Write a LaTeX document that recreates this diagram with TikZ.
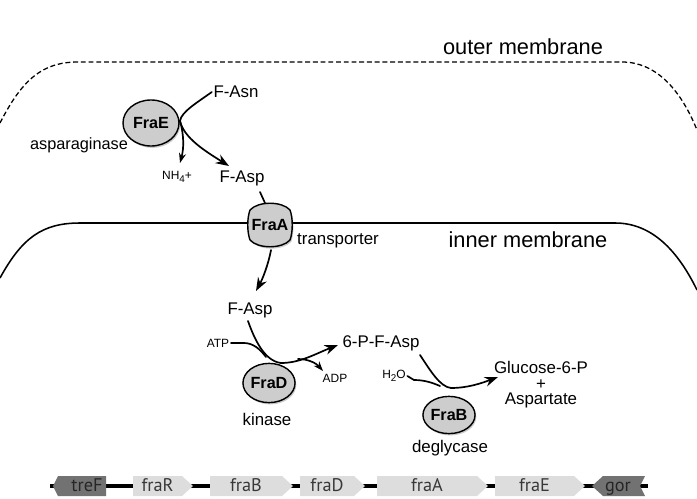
\documentclass[tikz,border=0pt]{standalone}
\usepackage{fontspec}
\setmainfont{Liberation Sans}
\newfontfamily\genefont{PT Sans}
\usetikzlibrary{arrows.meta, shapes.geometric, shadows}
\definecolor{enzymegray}{HTML}{CDCDCD}
\definecolor{genelight}{HTML}{DDDDDD}
\definecolor{genedark}{HTML}{727272}
\newcommand{\lowsub}[1]{\raisebox{-2.2pt}{\fontsize{7}{8}\selectfont #1}}
\tikzset{
  x=0.025cm, y=-0.025cm,
  enzshadow/.style={drop shadow={shadow xshift=0.9pt, shadow yshift=-1.3pt, opacity=0.35, fill=black!60}},
  enzyme/.style={ellipse, draw, line width=1pt, fill=enzymegray, inner sep=0pt, enzshadow,
    font=\fontsize{11.5}{13}\selectfont\bfseries},
  metab/.style={inner sep=1pt, font=\fontsize{12}{14}\selectfont},
  small/.style={inner sep=1pt, font=\fontsize{8.5}{10}\selectfont},
  membrane/.style={font=\fontsize{15.5}{18}\selectfont},
  rxn/.style={line width=1.2pt, line cap=round},
  big/.style={-{Stealth[length=9.5pt, width=7pt]}},
  little/.style={-{Stealth[length=7pt, width=5pt]}},
  genelabel/.style={inner sep=0pt, anchor=base, text=black!78, font=\fontsize{13}{15}\genefont},
}

\begin{document}
\begin{tikzpicture}
\useasboundingbox (0,0) rectangle (697,499);

% membranes
\draw[line width=0.9pt, dash pattern=on 3.5pt off 2pt]
  (0,123) .. controls (22,80) and (42,62) .. (78,62) -- (622,62)
  .. controls (655,62) and (680,88) .. (697,130);
\draw[line width=1.1pt]
  (0,278) .. controls (22,238) and (42,223) .. (80,223) -- (615,223)
  .. controls (648,223) and (675,245) .. (697,290);
\node[membrane] (outer) at (523,47) {outer membrane};
\node[membrane] (inner) at (528,240) {inner membrane};

% FraE, asparaginase
\node[enzyme, minimum width=1.4cm, minimum height=1.15cm] (frae) at (151,123) {FraE};
\node[metab, font=\fontsize{11.6}{14}\selectfont] (asparaginase) at (79,145) {asparaginase};
\node[metab] (fasn) at (236,92) {F-Asn};
\node[small] (nh4) at (177,177) {NH\lowsub{4}+};
\node[metab] (faspa) at (242,178) {F-Asp};
\coordinate (eturn) at (180,121);
\coordinate (nhtip) at (180,163);
\coordinate (asptip) at (229,166);
\draw[rxn] (fasn.west) .. controls (198,102) and (181,112) .. (eturn);
\draw[rxn, little] (eturn) .. controls (184,135) and (184,148) .. (nhtip);
\draw[rxn, big] (eturn) .. controls (184,138) and (205,151) .. (asptip);

% FraA, transporter
\draw[line width=1pt, fill=enzymegray, enzshadow]
  (250,210) .. controls (258,201) and (282,201) .. (290,210)
  .. controls (293,218) and (293,232) .. (290,240)
  .. controls (282,249) and (258,249) .. (250,240)
  .. controls (247,232) and (247,218) .. (250,210) -- cycle;
\node[inner sep=0pt, minimum width=1.1cm, minimum height=1.15cm,
  font=\fontsize{11.5}{13}\selectfont\bfseries] (fraa) at (270,225) {FraA};
\node[metab] (transporter) at (338,241) {transporter};
\coordinate (fraatop) at (265,203);
\coordinate (fraabot) at (271,250);
\coordinate (aspbtip) at (256,291);
\draw[rxn] (260,192) -- (fraatop);
\draw[rxn, big] (fraabot) .. controls (268,266) and (262,280) .. (aspbtip);

% FraD, kinase
\node[enzyme, minimum width=1.3cm, minimum height=0.98cm] (frad) at (269,383) {FraD};
\node[metab] (kinase) at (267,419) {kinase};
\node[metab] (faspb) at (250,310) {F-Asp};
\node[small] (atp) at (218,343) {ATP};
\node[small] (adp) at (335,378) {ADP};
\node[metab] (pfasp) at (381,343) {6-P-F-Asp};
\coordinate (dturn) at (281,363);
\coordinate (dmerge) at (266,357);
\coordinate (dsplit) at (298,359);
\coordinate (adptip) at (323,371);
\coordinate (pfasptip) at (338,345);
\draw[rxn] (248,321) .. controls (254,338) and (264,361) .. (dturn);
\draw[rxn] (atp.east) -- (244,343) .. controls (253,343) and (260,349) .. (dmerge);
\draw[rxn, big] (dturn) .. controls (300,363) and (315,354) .. (pfasptip);
\draw[rxn, little] (dsplit) .. controls (308,359) and (316,363) .. (adptip);

% FraB, deglycase
\node[enzyme, minimum width=1.2cm, minimum height=0.93cm] (frab) at (449,415) {FraB};
\node[metab] (deglycase) at (450,448) {deglycase};
\node[small] (water) at (394,376) {H\lowsub{2}O};
\node[metab, align=center, font=\fontsize{12}{14}\selectfont] (products) at (541,385)
  {Glucose-6-P\\[-3pt]+\\[-3pt]Aspartate};
\coordinate (bturn) at (451,388);
\coordinate (bmerge) at (440,386);
\coordinate (prodtip) at (498,377);
\draw[rxn] (420,355) .. controls (430,370) and (440,387) .. (bturn);
\draw[rxn] (water.east) -- (414,380) .. controls (425,380) and (433,383) .. (bmerge);
\draw[rxn, big] (bturn) .. controls (468,388) and (482,383) .. (prodtip);

% gene cluster
\draw[line width=3pt] (50,486) -- (648,486);
\fill[genedark] (53,486) -- (58,476) -- (106,476) -- (106,496) -- (58,496) -- cycle;
\node[genelabel, text=black!85] (genetreF) at (87,491) {treF};
\foreach \name/\lx/\rx in {fraR/133/193, fraB/210/293, fraD/300/365, fraA/377/488, fraE/495/585} {
  \fill[genelight] (\lx,476) -- (\rx-11,476) -- (\rx,486) -- (\rx-11,496) -- (\lx,496) -- cycle;
  \node[genelabel] (gene\name) at ({(\lx+\rx-11)/2},491) {\name};
}
\fill[genedark] (592,486) -- (603,476) -- (645,476) -- (640,486) -- (645,496) -- (603,496) -- cycle;
\node[genelabel, text=black!85] (genegor) at (618,491) {gor};
\end{tikzpicture}
\end{document}
